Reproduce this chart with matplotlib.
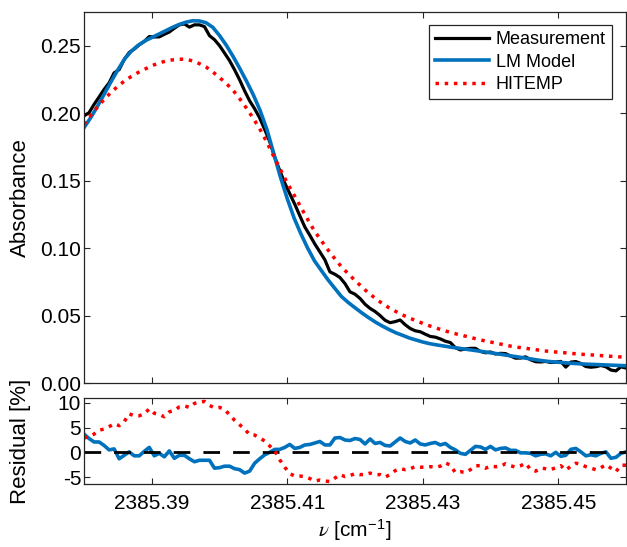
import numpy as np
import matplotlib.pyplot as plt

plt.rcParams['font.family'] = ['Liberation Sans', 'DejaVu Sans']
plt.rcParams['axes.unicode_minus'] = False
plt.rcParams['mathtext.fontset'] = 'custom'
plt.rcParams['mathtext.rm'] = 'Liberation Sans'
plt.rcParams['mathtext.it'] = 'STIXGeneral:italic'

# wavenumber grids [cm-1]
nu_min, nu_max = 2385.38, 2385.46
nu_meas = np.linspace(nu_min, nu_max, 109)
nu_model = np.linspace(nu_min, nu_max, 81)

# measured absorbance
meas = [0.198, 0.2004, 0.2065, 0.212, 0.2176, 0.2225, 0.2299, 0.2323, 0.2397, 0.245,
        0.2475, 0.2507, 0.2532, 0.2568, 0.2565, 0.2566, 0.2585, 0.2602, 0.263, 0.2655,
        0.2662, 0.2638, 0.2655, 0.2655, 0.2642, 0.2575, 0.2545, 0.2501, 0.2446, 0.239,
        0.2322, 0.2248, 0.2166, 0.2092, 0.2033, 0.1965, 0.188, 0.179, 0.1675, 0.1575,
        0.1483, 0.1403, 0.1325, 0.124, 0.1157, 0.1095, 0.103, 0.0972, 0.0913, 0.0824,
        0.0806, 0.0782, 0.0737, 0.0676, 0.0658, 0.0627, 0.0584, 0.0553, 0.053, 0.05,
        0.0465, 0.0447, 0.0455, 0.0467, 0.0432, 0.0404, 0.0387, 0.038, 0.0362, 0.0345,
        0.034, 0.0327, 0.031, 0.03, 0.0262, 0.0245, 0.0252, 0.0257, 0.0257, 0.0234,
        0.0224, 0.023, 0.0215, 0.022, 0.0218, 0.02, 0.0184, 0.0185, 0.0194, 0.0172,
        0.0158, 0.0156, 0.016, 0.0152, 0.0155, 0.016, 0.0118, 0.0155, 0.0159, 0.0145,
        0.0122, 0.0117, 0.0121, 0.013, 0.012, 0.0096, 0.009, 0.012, 0.0111]

# LM fitted model
lm_model = [0.1893, 0.1968, 0.2053, 0.2143, 0.2235, 0.2322, 0.2403, 0.2461, 0.2504, 0.2536,
            0.2561, 0.2585, 0.261, 0.2635, 0.2657, 0.2674, 0.2685, 0.2684, 0.2671, 0.2637,
            0.2576, 0.2504, 0.2421, 0.2331, 0.2236, 0.2135, 0.2019, 0.1879, 0.1702, 0.1525,
            0.1367, 0.1224, 0.1107, 0.1001, 0.0907, 0.0836, 0.0766, 0.0703, 0.0641, 0.0597,
            0.0558, 0.052, 0.0485, 0.0452, 0.0423, 0.0397, 0.0373, 0.0354, 0.0334, 0.0319,
            0.0304, 0.0292, 0.0283, 0.0275, 0.0267, 0.026, 0.0253, 0.0246, 0.0239, 0.0232,
            0.0224, 0.0217, 0.0209, 0.0201, 0.0194, 0.0186, 0.0178, 0.017, 0.0163, 0.0158,
            0.0154, 0.015, 0.0146, 0.0143, 0.014, 0.0138, 0.0136, 0.0134, 0.0132, 0.013,
            0.0128]

# HITEMP database
hitemp = [0.1918, 0.1985, 0.2047, 0.2104, 0.2155, 0.22, 0.224, 0.2273, 0.2302, 0.2327,
          0.2352, 0.2371, 0.2386, 0.2395, 0.24, 0.2401, 0.2388, 0.2368, 0.2343, 0.2306,
          0.2265, 0.222, 0.217, 0.2106, 0.2036, 0.1961, 0.1878, 0.1784, 0.168, 0.1581,
          0.1483, 0.1394, 0.1304, 0.1214, 0.1128, 0.1057, 0.0987, 0.0923, 0.0861, 0.081,
          0.076, 0.0713, 0.0667, 0.0628, 0.059, 0.0558, 0.0531, 0.0505, 0.0482, 0.0462,
          0.0442, 0.0424, 0.0407, 0.0391, 0.0376, 0.0363, 0.0351, 0.0338, 0.0326, 0.0314,
          0.0304, 0.0294, 0.0283, 0.0273, 0.0265, 0.0258, 0.0252, 0.0245, 0.0238, 0.0233,
          0.0228, 0.0224, 0.0219, 0.0215, 0.0211, 0.0208, 0.0204, 0.0201, 0.0197, 0.0194,
          0.019]

# residuals [%]
res_lm = [3.7, 2.8, 2.1, 2.1, 1.4, 0.5, 0.7, -1.3, -0.6, 0.1,
          -0.7, -0.7, 0.2, 1.0, -0.7, -0.2, -0.9, 0.3, -1.2, -0.6,
          -0.6, -1.3, -1.9, -1.6, -1.6, -1.6, -3.2, -3.1, -2.8, -2.8,
          -3.3, -3.5, -4.2, -3.8, -2.2, -1.3, -0.5, 0.0, 0.6, 0.6,
          1.0, 1.6, 0.8, 1.0, 1.5, 1.6, 1.9, 2.2, 1.5, 1.5,
          2.9, 3.0, 2.5, 2.4, 2.8, 2.6, 1.7, 2.7, 1.8, 2.0,
          1.4, 1.3, 2.1, 2.9, 2.2, 1.9, 2.5, 1.7, 1.5, 1.8,
          2.0, 1.5, 1.8, 1.0, 0.5, -0.2, -0.4, 0.4, 1.2, 1.1,
          0.6, 1.2, 0.5, 0.8, 0.9, 0.4, 0.4, -0.1, -0.1, -0.2,
          -0.7, -0.4, -0.3, -0.7, 0.0, -0.8, -0.6, 0.6, 0.8, 0.1,
          -0.7, -0.5, -0.7, -0.2, 0.1, -1.2, -1.0, -0.2, 0.1]

res_hitemp = [2.9, 3.2, 3.7, 4.5, 4.7, 5.2, 5.8, 5.4, 6.2, 7.8,
              7.4, 7.4, 7.8, 8.8, 7.9, 7.7, 7.2, 8.2, 8.5, 9.2,
              9.4, 9.1, 9.9, 10.2, 10.3, 9.5, 9.0, 9.1, 8.7, 7.6,
              6.5, 5.6, 4.7, 3.6, 3.5, 2.9, 2.3, 1.3, 0.3, -1.5,
              -3.0, -4.3, -4.8, -4.8, -4.9, -5.3, -5.8, -5.6, -5.8, -5.9,
              -5.2, -4.5, -4.9, -4.7, -4.3, -4.5, -4.5, -4.2, -4.5, -4.5,
              -5.0, -4.5, -3.7, -3.3, -3.5, -3.3, -2.9, -3.0, -3.0, -2.9,
              -3.0, -2.8, -2.1, -2.6, -4.1, -3.9, -4.1, -3.5, -2.7, -2.7,
              -3.2, -2.8, -2.9, -2.8, -2.3, -2.7, -3.0, -2.7, -2.2, -3.5,
              -3.8, -3.2, -3.3, -3.5, -3.1, -2.7, -3.6, -2.8, -2.2, -2.4,
              -2.9, -3.2, -3.5, -3.1, -2.5, -3.2, -3.9, -2.6, -2.6]

xticks = [2385.39, 2385.41, 2385.43, 2385.45]
blue = '#0072BD'
red = '#FF0000'
axcol = '#262626'

fig = plt.figure(figsize=(6.27, 5.47), dpi=100)
ax1 = fig.add_axes([0.1340, 0.2998, 0.8644, 0.6782])
ax2 = fig.add_axes([0.1340, 0.1152, 0.8644, 0.1572])

ax1.plot(nu_meas, meas, color='black', lw=2.3, label='Measurement')
ax1.plot(nu_model, lm_model, color=blue, lw=2.6, label='LM Model')
ax1.plot(nu_model, hitemp, color=red, lw=2.5, ls=':', label='HITEMP')
ax1.set_xlim(nu_min, nu_max)
ax1.set_ylim(0, 0.275)
ax1.set_yticks([0, 0.05, 0.10, 0.15, 0.20, 0.25])
ax1.set_yticklabels(['%.2f' % v for v in [0, 0.05, 0.10, 0.15, 0.20, 0.25]])
ax1.set_xticks(xticks)
ax1.tick_params(labelbottom=False)
ax1.set_ylabel('Absorbance', fontsize=16)
ax1.yaxis.set_label_coords(-0.098, 0.5)
leg = ax1.legend(loc='upper right', bbox_to_anchor=(0.974, 0.965), borderaxespad=0,
                 fontsize=13, handlelength=3.0, handletextpad=0.35, labelspacing=0.3,
                 borderpad=0.35, fancybox=False, framealpha=1, edgecolor=axcol)
leg.get_frame().set_linewidth(0.9)

ax2.plot(nu_meas, res_lm, color=blue, lw=2.6)
ax2.axhline(0, color='black', lw=2, dashes=(6, 4.7))
ax2.plot(nu_meas, res_hitemp, color=red, lw=2.5, ls=':')
ax2.set_xlim(nu_min, nu_max)
ax2.set_ylim(-6.4, 11)
ax2.set_yticks([-5, 0, 5, 10])
ax2.set_xticks(xticks)
ax2.set_xticklabels(['%.2f' % v for v in xticks])
ax2.set_ylabel('Residual [%]', fontsize=16)
ax2.yaxis.set_label_coords(-0.098, 0.5)
ax2.set_xlabel(r'$\nu$ [cm$^{\mathrm{-1}}$]', fontsize=15)
ax2.xaxis.set_label_coords(0.5, -0.39)

for ax in (ax1, ax2):
    ax.tick_params(direction='in', top=True, right=True, length=4, width=0.8,
                   labelsize=15, color=axcol)
    ax.tick_params(axis='y', pad=2)
    ax.tick_params(axis='x', pad=7)
    for s in ax.spines.values():
        s.set_linewidth(0.9)
        s.set_color(axcol)

fig.savefig('out.png', dpi=100)
